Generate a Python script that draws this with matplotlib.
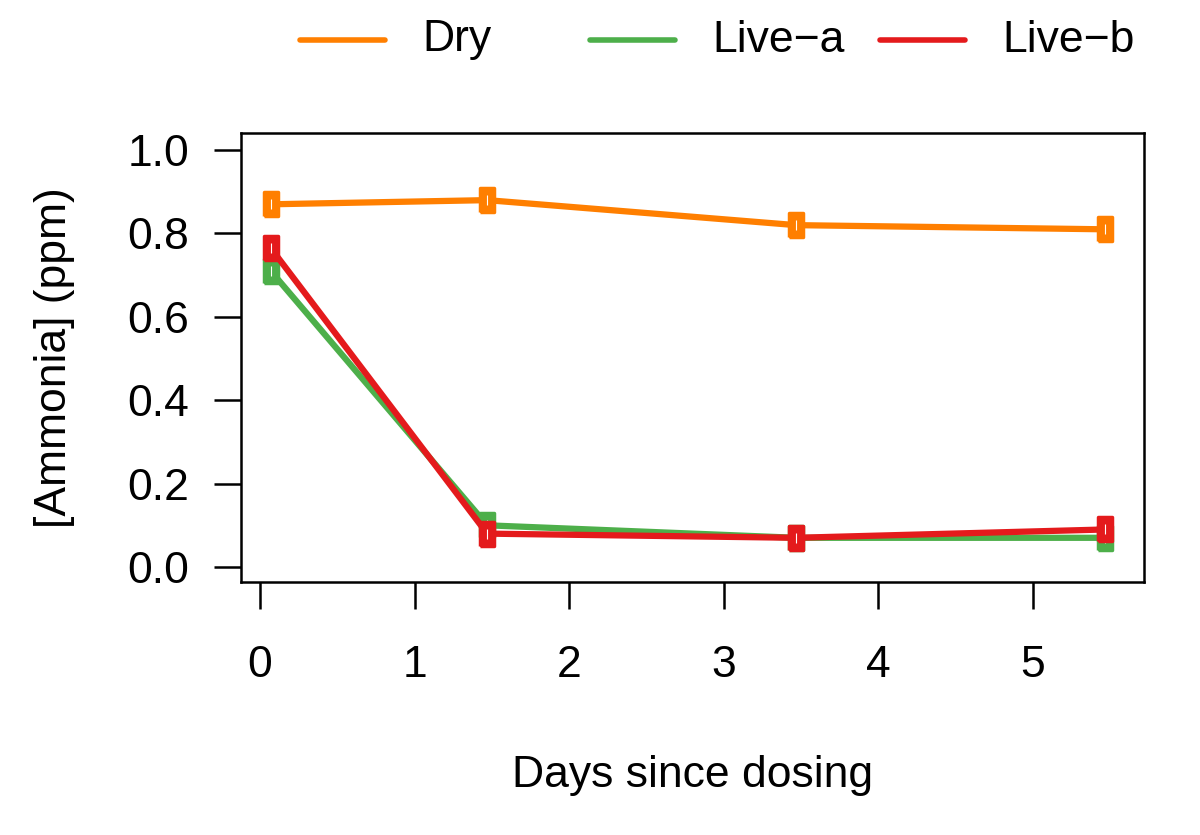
import numpy as np
import matplotlib.pyplot as plt
from matplotlib.lines import Line2D

# Ammonia measurements after dosing
days = [0.07, 1.47, 3.47, 5.47]
dry = [0.87, 0.88, 0.82, 0.81]
live_a = [0.71, 0.10, 0.07, 0.07]
live_b = [0.765, 0.08, 0.07, 0.09]

series = ['Dry', 'Live\u2212a', 'Live\u2212b']
values = [dry, live_a, live_b]
colors = ['#FF7F00', '#4DAF4A', '#E41A1C']

plt.rcParams['font.family'] = ['Liberation Sans', 'DejaVu Sans']

fig = plt.figure(figsize=(12, 8.35), dpi=100)
ax = fig.add_axes([0.2008, 0.3030, 0.7525, 0.5377])

# tall rectangle marker
rect = [(-0.6, -1), (0.6, -1), (0.6, 1), (-0.6, 1), (-0.6, -1)]

for name, y, c in zip(series, values, colors):
    ax.plot(days, y, color=c, lw=4.5, solid_capstyle='round',
            marker=rect, markersize=17.5, markerfacecolor=c,
            markeredgecolor=c, markeredgewidth=2.5, label=name)
    ax.plot(days, y, ls='none', marker='|', markersize=7,
            markeredgecolor='white', markeredgewidth=0.8)

ax.set_xlim(-0.123, 5.72)
ax.set_ylim(-0.036, 1.041)
ax.set_xticks(range(6))
ax.set_yticks(np.arange(0, 1.01, 0.2))
ax.set_yticklabels(['0.0', '0.2', '0.4', '0.6', '0.8', '1.0'])
ax.tick_params(axis='both', direction='out', length=19.5, width=1.8,
               labelsize=32)
ax.tick_params(axis='x', pad=26)
ax.tick_params(axis='y', pad=18)
for s in ax.spines.values():
    s.set_linewidth(1.8)

ax.set_xlabel('Days since dosing', fontsize=32)
ax.xaxis.label.set_va('center')
ax.xaxis.set_label_coords(0.5, -0.43)
ax.set_ylabel('[Ammonia] (ppm)', fontsize=32)
ax.yaxis.label.set_va('center')
ax.yaxis.set_label_coords(-0.206, 0.5)

# legend on top, equal column widths
x0 = [300 / 1200, 590 / 1200, 880 / 1200]
for name, c, xs in zip(series, colors, x0):
    fig.add_artist(Line2D([xs, xs + 85 / 1200], [1 - 40 / 835] * 2,
                          color=c, lw=4, solid_capstyle='round',
                          transform=fig.transFigure))
    fig.text(xs + 122 / 1200, 1 - 40 / 835, name, fontsize=32,
             va='center', ha='left')

fig.savefig('out.png', dpi=100)
